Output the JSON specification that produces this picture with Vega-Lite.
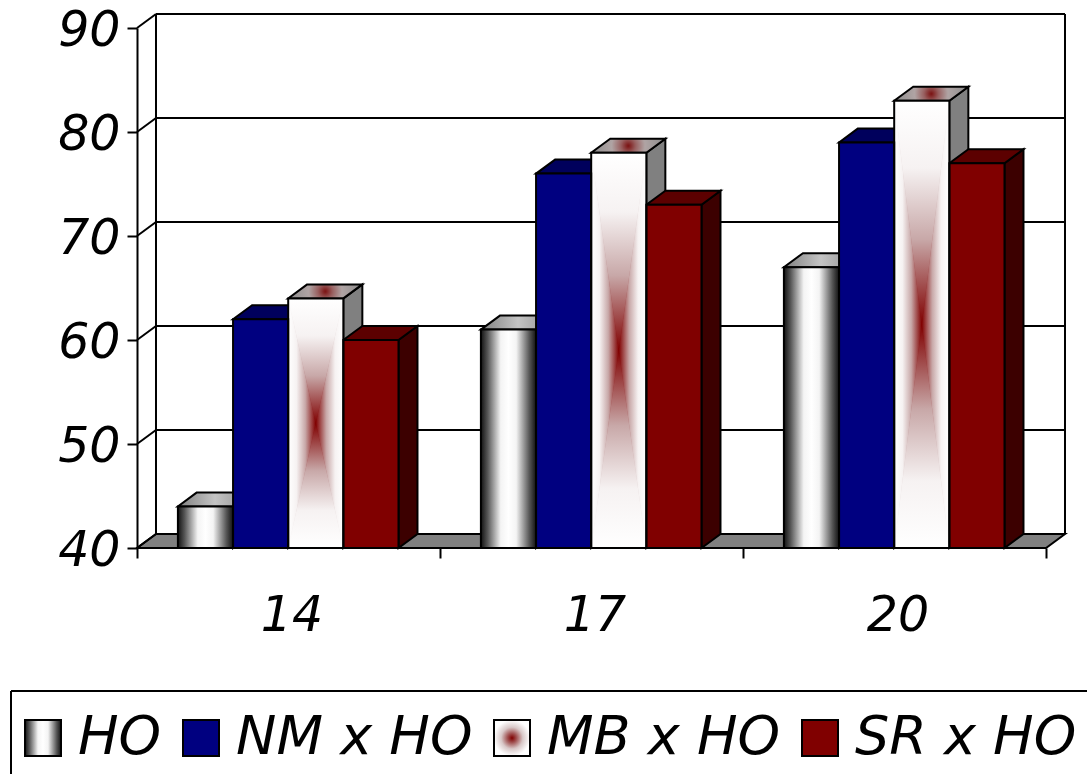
{
  "$schema": "https://vega.github.io/schema/vega-lite/v6.json",
  "width": 909,
  "height": 520,
  "padding": {"left": 137, "top": 28, "right": 41, "bottom": 226},
  "autosize": "none",
  "background": "white",
  "config": {"view": {"stroke": null}, "font": "DejaVu Sans"},
  "datasets": {
    "milk": [
      {"age": 14, "series": "HO", "value": 44},
      {"age": 14, "series": "NM x HO", "value": 62},
      {"age": 14, "series": "MB x HO", "value": 64},
      {"age": 14, "series": "SR x HO", "value": 60},
      {"age": 17, "series": "HO", "value": 61},
      {"age": 17, "series": "NM x HO", "value": 76},
      {"age": 17, "series": "MB x HO", "value": 78},
      {"age": 17, "series": "SR x HO", "value": 73},
      {"age": 20, "series": "HO", "value": 67},
      {"age": 20, "series": "NM x HO", "value": 79},
      {"age": 20, "series": "MB x HO", "value": 83},
      {"age": 20, "series": "SR x HO", "value": 77}
    ],
    "levels": [{"level": 40}, {"level": 50}, {"level": 60}, {"level": 70}, {"level": 80}, {"level": 90}]
  },
  "resolve": {"scale": {"x": "independent"}, "axis": {"y": "independent"}},
  "layer": [
    {
      "data": {"name": "milk"},
      "mark": {"type": "rule", "opacity": 0},
      "encoding": {
        "x": {
          "field": "age",
          "type": "nominal",
          "scale": {"paddingInner": 0, "paddingOuter": 0},
          "axis": {
            "title": null,
            "labelAngle": 0,
            "tickBand": "extent",
            "tickSize": 10,
            "tickWidth": 2,
            "tickColor": "black",
            "domain": false,
            "labelFont": "DejaVu Sans",
            "labelFontStyle": "italic",
            "labelFontSize": 49,
            "labelColor": "black",
            "labelPadding": 33,
            "labelOffset": 3,
            "labelBaseline": "top"
          }
        }
      }
    },
    {
      "resolve": {"axis": {"y": "independent"}},
      "layer": [
        {
          "data": {"name": "levels"},
          "transform": [
            {"filter": "datum.level === 40"},
            {"calculate": "[0,1]", "as": "t"},
            {"flatten": ["t"]},
            {"calculate": "0.0627*datum.t", "as": "fx"},
            {"calculate": "3+0.0627*datum.t", "as": "fx2"},
            {"calculate": "40+1.346*datum.t", "as": "fy"}
          ],
          "mark": {"type": "area", "orient": "horizontal", "fill": "#808080", "stroke": "black", "strokeWidth": 2},
          "encoding": {
            "y": {
              "field": "fy",
              "type": "quantitative",
              "stack": null,
              "scale": {"domain": [40, 90], "nice": false, "zero": false},
              "axis": {
                "title": null,
                "values": [40, 50, 60, 70, 80, 90],
                "grid": false,
                "tickSize": 10,
                "tickWidth": 2,
                "tickColor": "black",
                "domainColor": "black",
                "domainWidth": 2,
                "labelFont": "DejaVu Sans",
                "labelFontStyle": "italic",
                "labelFontSize": 49,
                "labelColor": "black",
                "labelPadding": 7,
                "labelOffset": 2
              }
            },
            "x": {"field": "fx", "type": "quantitative", "stack": null, "scale": {"domain": [0, 3], "nice": false, "zero": false}, "axis": null},
            "x2": {"field": "fx2"}
          }
        },
        {
          "data": {"name": "levels"},
          "transform": [
            {"calculate": "0.0627", "as": "bx"},
            {"calculate": "3.0627", "as": "bx2"},
            {"calculate": "datum.level+1.346", "as": "by"}
          ],
          "mark": {"type": "rule", "color": "black", "strokeWidth": 2},
          "encoding": {
            "x": {"field": "bx", "type": "quantitative", "axis": null},
            "x2": {"field": "bx2"},
            "y": {"field": "by", "type": "quantitative", "axis": null}
          }
        },
        {
          "data": {"name": "levels"},
          "transform": [
            {"calculate": "0", "as": "bx"},
            {"calculate": "0.0627", "as": "bx2"},
            {"calculate": "datum.level+1.346", "as": "by"}
          ],
          "mark": {"type": "rule", "color": "black", "strokeWidth": 2},
          "encoding": {
            "x": {"field": "bx", "type": "quantitative", "axis": null},
            "x2": {"field": "bx2"},
            "y": {"field": "level", "type": "quantitative", "axis": null},
            "y2": {"field": "by"}
          }
        },
        {
          "data": {"name": "levels"},
          "transform": [
            {"filter": "datum.level === 40"},
            {"calculate": "[0.0627,3.0627]", "as": "bx"},
            {"flatten": ["bx"]},
            {"calculate": "41.346", "as": "by"},
            {"calculate": "91.346", "as": "by2"}
          ],
          "mark": {"type": "rule", "color": "black", "strokeWidth": 2},
          "encoding": {
            "x": {"field": "bx", "type": "quantitative", "axis": null},
            "y": {"field": "by", "type": "quantitative", "axis": null},
            "y2": {"field": "by2"}
          }
        },
        {
          "data": {"name": "levels"},
          "transform": [
            {"filter": "datum.level === 40"},
            {"calculate": "-0.4158", "as": "fl"},
            {"calculate": "3.2", "as": "fr"},
            {"calculate": "26.25", "as": "ft"}
          ],
          "mark": {"type": "rule", "color": "black", "strokeWidth": 2},
          "encoding": {
            "x": {"field": "fl", "type": "quantitative", "axis": null},
            "x2": {"field": "fr"},
            "y": {"field": "ft", "type": "quantitative", "axis": null}
          }
        },
        {
          "data": {"name": "levels"},
          "transform": [
            {"filter": "datum.level === 40"},
            {"calculate": "-0.4158", "as": "fl"},
            {"calculate": "26.25", "as": "ft"},
            {"calculate": "18", "as": "fb"}
          ],
          "mark": {"type": "rule", "color": "black", "strokeWidth": 2},
          "encoding": {
            "x": {"field": "fl", "type": "quantitative", "axis": null},
            "y": {"field": "ft", "type": "quantitative", "axis": null},
            "y2": {"field": "fb"}
          }
        },
        {
          "data": {"name": "milk"},
          "resolve": {"axis": {"y": "independent"}},
          "transform": [
            {"calculate": "indexof([14,17,20], datum.age)", "as": "g"},
            {"calculate": "indexof(['HO','NM x HO','MB x HO','SR x HO'], datum.series)", "as": "s"},
            {"calculate": "datum.age + datum.series", "as": "key"},
            {"calculate": "datum.g + 0.135 + datum.s*0.182", "as": "l"},
            {"calculate": "datum.l + 0.182", "as": "r"},
            {"calculate": "datum.l + 0.091", "as": "c"},
            {"calculate": "(datum.value + 40)/2", "as": "m"},
            {"calculate": "40", "as": "base"},
            {"calculate": "[0,1]", "as": "t"},
            {"flatten": ["t"]},
            {"calculate": "datum.r + datum.t*0.0627", "as": "sx"},
            {"calculate": "datum.value + datum.t*1.346", "as": "sy"},
            {"calculate": "40 + datum.t*1.346", "as": "sy2"},
            {"calculate": "datum.l + datum.t*0.0627", "as": "tx"},
            {"calculate": "datum.r + datum.t*0.0627", "as": "tx2"},
            {"calculate": "datum.l + datum.t*(datum.c-datum.l)", "as": "ax"},
            {"calculate": "datum.r + datum.t*(datum.c-datum.r)", "as": "ax2"},
            {"calculate": "datum.value + datum.t*(datum.m-datum.value)", "as": "ay"},
            {"calculate": "40 + datum.t*(datum.m-40)", "as": "ay2"},
            {"calculate": "datum.c + datum.t*(datum.r-datum.c)", "as": "rx"},
            {"calculate": "datum.m + datum.t*(datum.value-datum.m)", "as": "ry"},
            {"calculate": "datum.m + datum.t*(40-datum.m)", "as": "ry2"},
            {"calculate": "{'HO':'#555555','NM x HO':'#000040','MB x HO':'#808080','SR x HO':'#3c0000'}[datum.series]", "as": "sideFill"},
            {"calculate": "{'NM x HO':'#00005c','SR x HO':'#5c0000'}[datum.series]", "as": "topFill"}
          ],
          "layer": [
            {
              "mark": {"type": "area", "orient": "vertical", "stroke": "black", "strokeWidth": 2},
              "encoding": {
                "x": {"field": "sx", "type": "quantitative", "axis": null},
                "y": {"field": "sy", "type": "quantitative", "stack": null, "axis": null},
                "y2": {"field": "sy2"},
                "detail": {"field": "key"},
                "fill": {"field": "sideFill", "type": "nominal", "scale": null}
              }
            },
            {
              "transform": [{"filter": "datum.series === 'NM x HO' || datum.series === 'SR x HO'"}],
              "mark": {"type": "area", "orient": "horizontal", "stroke": "black", "strokeWidth": 2},
              "encoding": {
                "x": {"field": "tx", "type": "quantitative", "stack": null, "axis": null},
                "x2": {"field": "tx2"},
                "y": {"field": "sy", "type": "quantitative", "axis": null},
                "detail": {"field": "key"},
                "fill": {"field": "topFill", "type": "nominal", "scale": null}
              }
            },
            {
              "transform": [{"filter": "datum.series === 'HO'"}],
              "mark": {
                "type": "area",
                "orient": "horizontal",
                "stroke": "black",
                "strokeWidth": 2,
                "fill": {
                  "gradient": "linear", "x1": 0, "y1": 0, "x2": 1, "y2": 0,
                  "stops": [
                    {"offset": 0, "color": "#808080"},
                    {"offset": 0.5, "color": "#c4c4c4"},
                    {"offset": 1, "color": "#8c8c8c"}
                  ]
                }
              },
              "encoding": {
                "x": {"field": "tx", "type": "quantitative", "stack": null, "axis": null},
                "x2": {"field": "tx2"},
                "y": {"field": "sy", "type": "quantitative", "axis": null},
                "detail": {"field": "key"}
              }
            },
            {
              "transform": [{"filter": "datum.series === 'MB x HO'"}],
              "mark": {
                "type": "area",
                "orient": "horizontal",
                "stroke": "black",
                "strokeWidth": 2,
                "fill": {
                  "gradient": "radial", "x1": 0.5, "y1": 0.5, "x2": 0.5, "y2": 0.5, "r1": 0, "r2": 0.5,
                  "stops": [
                    {"offset": 0, "color": "#7a1010"},
                    {"offset": 0.2, "color": "#986060"},
                    {"offset": 0.45, "color": "#b0a4a4"},
                    {"offset": 1, "color": "#8c8c8c"}
                  ]
                }
              },
              "encoding": {
                "x": {"field": "tx", "type": "quantitative", "stack": null, "axis": null},
                "x2": {"field": "tx2"},
                "y": {"field": "sy", "type": "quantitative", "axis": null},
                "detail": {"field": "key"}
              }
            },
            {
              "transform": [{"filter": "datum.t === 0"}],
              "mark": {"type": "rect"},
              "encoding": {
                "x": {"field": "l", "type": "quantitative", "axis": null},
                "x2": {"field": "r"},
                "y": {"field": "value", "type": "quantitative", "axis": null},
                "y2": {"field": "base"},
                "color": {
                  "field": "series",
                  "type": "nominal",
                  "sort": null,
                  "scale": {
                    "domain": ["HO", "NM x HO", "MB x HO", "SR x HO"],
                    "range": [
                      {"expr": "{gradient:'linear',x1:0,y1:0,x2:1,y2:0,stops:[{offset:0,color:'#111111'},{offset:0.12,color:'#555555'},{offset:0.36,color:'#f4f4f4'},{offset:0.5,color:'#ffffff'},{offset:0.64,color:'#f4f4f4'},{offset:0.88,color:'#555555'},{offset:1,color:'#111111'}]}"},
                      "#000080",
                      {"expr": "{gradient:'radial',x1:0.5,y1:0.5,x2:0.5,y2:0.5,r1:0,r2:0.5,stops:[{offset:0,color:'#800000'},{offset:0.25,color:'#a05050'},{offset:0.6,color:'#d8c8c8'},{offset:1,color:'#ffffff'}]}"},
                      "#800000"
                    ]
                  },
                  "legend": {
                    "title": " ",
                    "titleFontSize": 15,
                    "titlePadding": 0,
                    "orient": "none",
                    "legendX": -126,
                    "legendY": 663,
                    "direction": "horizontal",
                    "columns": 4,
                    "gridAlign": "each",
                    "columnPadding": 12,
                    "padding": 5,
                    "symbolType": "square",
                    "symbolSize": 1296,
                    "symbolStrokeColor": "black",
                    "symbolStrokeWidth": 2,
                    "labelOffset": 8,
                    "labelFont": "DejaVu Sans",
                    "labelFontStyle": "italic",
                    "labelFontSize": 54,
                    "labelColor": "black",
                    "labelLimit": 500
                  }
                }
              }
            },
            {
              "transform": [{"filter": "datum.series === 'MB x HO'"}],
              "mark": {
                "type": "area",
                "orient": "vertical",
                "fill": {
                  "gradient": "linear", "x1": 0, "y1": 0, "x2": 1, "y2": 0,
                  "stops": [
                    {"offset": 0, "color": "#ffffff"},
                    {"offset": 0.3, "color": "#f6f2f2"},
                    {"offset": 0.62, "color": "#c8a8a8"},
                    {"offset": 1, "color": "#800000"}
                  ]
                }
              },
              "encoding": {
                "x": {"field": "ax", "type": "quantitative", "axis": null},
                "y": {"field": "ay", "type": "quantitative", "stack": null, "axis": null},
                "y2": {"field": "ay2"},
                "detail": {"field": "key"}
              }
            },
            {
              "transform": [{"filter": "datum.series === 'MB x HO'"}],
              "mark": {
                "type": "area",
                "orient": "vertical",
                "fill": {
                  "gradient": "linear", "x1": 0, "y1": 0, "x2": 1, "y2": 0,
                  "stops": [
                    {"offset": 0, "color": "#800000"},
                    {"offset": 0.38, "color": "#c8a8a8"},
                    {"offset": 0.7, "color": "#f6f2f2"},
                    {"offset": 1, "color": "#ffffff"}
                  ]
                }
              },
              "encoding": {
                "x": {"field": "rx", "type": "quantitative", "axis": null},
                "y": {"field": "ry", "type": "quantitative", "stack": null, "axis": null},
                "y2": {"field": "ry2"},
                "detail": {"field": "key"}
              }
            },
            {
              "transform": [{"filter": "datum.series === 'MB x HO'"}],
              "mark": {
                "type": "area",
                "orient": "horizontal",
                "fill": {
                  "gradient": "linear", "x1": 0, "y1": 0, "x2": 0, "y2": 1,
                  "stops": [
                    {"offset": 0, "color": "#ffffff"},
                    {"offset": 0.3, "color": "#f6f2f2"},
                    {"offset": 0.62, "color": "#c8a8a8"},
                    {"offset": 1, "color": "#800000"}
                  ]
                }
              },
              "encoding": {
                "x": {"field": "ax", "type": "quantitative", "stack": null, "axis": null},
                "x2": {"field": "ax2"},
                "y": {"field": "ay", "type": "quantitative", "axis": null},
                "detail": {"field": "key"}
              }
            },
            {
              "transform": [{"filter": "datum.series === 'MB x HO'"}],
              "mark": {
                "type": "area",
                "orient": "horizontal",
                "fill": {
                  "gradient": "linear", "x1": 0, "y1": 0, "x2": 0, "y2": 1,
                  "stops": [
                    {"offset": 0, "color": "#800000"},
                    {"offset": 0.38, "color": "#c8a8a8"},
                    {"offset": 0.7, "color": "#f6f2f2"},
                    {"offset": 1, "color": "#ffffff"}
                  ]
                }
              },
              "encoding": {
                "x": {"field": "ax", "type": "quantitative", "stack": null, "axis": null},
                "x2": {"field": "ax2"},
                "y": {"field": "ay2", "type": "quantitative", "axis": null},
                "detail": {"field": "key"}
              }
            },
            {
              "transform": [{"filter": "datum.t === 0"}],
              "mark": {"type": "rect", "fill": null, "stroke": "black", "strokeWidth": 2},
              "encoding": {
                "x": {"field": "l", "type": "quantitative", "axis": null},
                "x2": {"field": "r"},
                "y": {"field": "value", "type": "quantitative", "axis": null},
                "y2": {"field": "base"}
              }
            }
          ]
        }
      ]
    }
  ]
}
